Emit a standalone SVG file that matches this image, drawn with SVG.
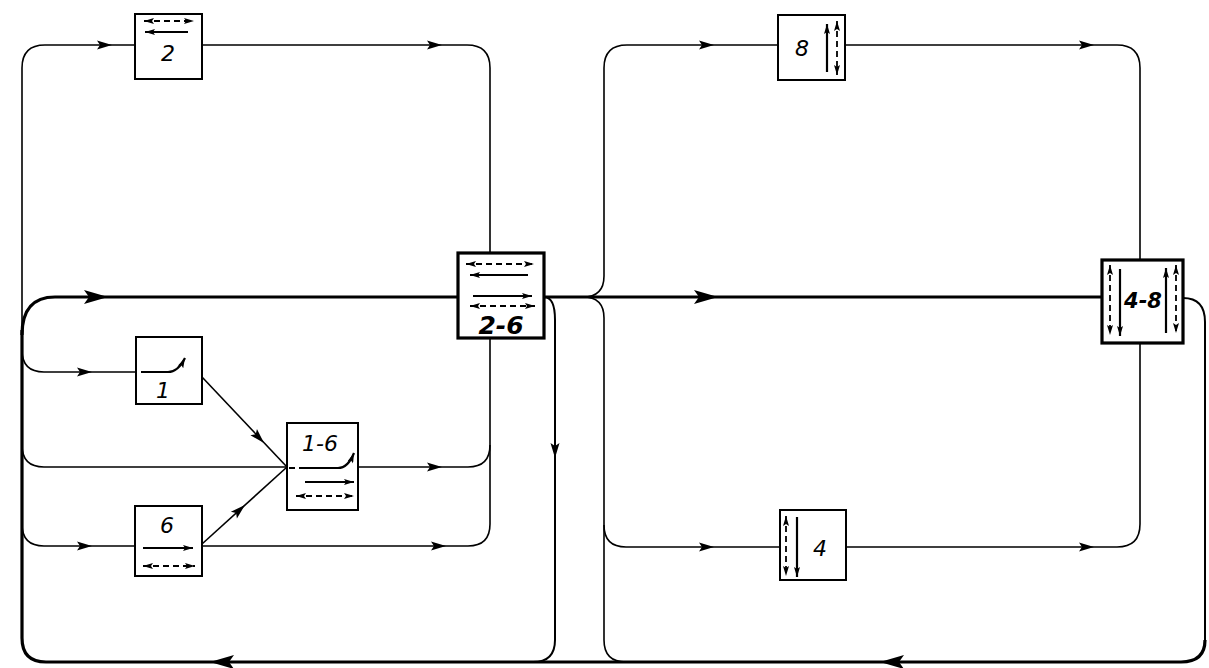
<svg xmlns="http://www.w3.org/2000/svg" width="1209" height="668" viewBox="0 0 1209 668">
<style>
.n{fill:#fff;stroke:#000;stroke-width:2}
.nb{fill:#fff;stroke:#000;stroke-width:3.2}
.c{fill:none;stroke:#000;stroke-width:1.6}
.cm{fill:none;stroke:#000;stroke-width:2}
.ct{fill:none;stroke:#000;stroke-width:3.2}
.i{fill:none;stroke:#000;stroke-width:2.2}
.d{fill:none;stroke:#000;stroke-width:1.8;stroke-dasharray:6 4}
.t{font-family:"DejaVu Sans","Liberation Sans",sans-serif;font-style:italic;font-size:22px;text-anchor:middle}
.tb{font-family:"DejaVu Sans","Liberation Sans",sans-serif;font-style:italic;font-weight:bold;font-size:25px;text-anchor:middle}
</style>
<defs>
<marker id="a" viewBox="0 0 10 6" refX="10" refY="3" markerWidth="11" markerHeight="6" markerUnits="userSpaceOnUse" orient="auto-start-reverse"><path d="M0,0 L10,3 L0,6 L2,3Z"/></marker>
<path id="ah" d="M0,0 L-15,-4.5 L-12,0 L-15,4.5Z"/>
<path id="AH" d="M0,0 L-24,-7 L-19,0 L-24,7Z"/>
</defs>
<g id="connectors">
<path class="ct" d="M22,335 Q22,297 55,297 L458,297"/>
<path class="ct" d="M544,297 L1102,297"/>
<path class="ct" d="M1205,640 Q1205,662 1181,662 L46,662 Q22,662 22,638 L22,330"/>
<path class="cm" d="M1183,298 Q1205,298 1205,322 L1205,640"/>
<path class="c" d="M22,330 L22,68 Q22,45 45,45 L135,45"/>
<path class="c" d="M202,45 L467,45 Q490,45 490,68 L490,253"/>
<path class="c" d="M22,350 Q22,372 44,372 L136,372"/>
<path class="c" d="M22,445 Q22,467 44,467 L287,467"/>
<path class="c" d="M22,524 Q22,546 44,546 L135,546"/>
<path class="c" d="M202,377 L287,467"/>
<path class="c" d="M202,544 L287,467"/>
<path class="c" d="M358,467 L468,467 Q490,467 490,445 L490,338"/>
<path class="c" d="M202,546 L468,546 Q490,546 490,524 L490,445"/>
<path class="cm" d="M544,297 Q555,297 555,320 L555,640 Q555,662 533,662"/>
<path class="c" d="M583,297 Q604,297 604,276 L604,68 Q604,45 627,45 L778,45"/>
<path class="c" d="M583,297 Q604,297 604,318 L604,640 Q604,662 626,662"/>
<path class="c" d="M604,525 Q604,547 626,547 L780,547"/>
<path class="c" d="M845,45 L1117,45 Q1140,45 1140,68 L1140,260"/>
<path class="c" d="M1140,343 L1140,524 Q1140,547 1117,547 L846,547"/>
<use href="#AH" transform="translate(108,297)"/>
<use href="#AH" transform="translate(718,297)"/>
<use href="#AH" transform="translate(210,662) rotate(180)"/>
<use href="#AH" transform="translate(880,662) rotate(180)"/>
<use href="#ah" transform="translate(112,45)"/>
<use href="#ah" transform="translate(442,45)"/>
<use href="#ah" transform="translate(714,45)"/>
<use href="#ah" transform="translate(1094,45)"/>
<use href="#ah" transform="translate(92,372)"/>
<use href="#ah" transform="translate(92,546)"/>
<use href="#ah" transform="translate(442,467)"/>
<use href="#ah" transform="translate(446,546)"/>
<use href="#ah" transform="translate(555,458) rotate(90)"/>
<use href="#ah" transform="translate(714,547)"/>
<use href="#ah" transform="translate(1094,547)"/>
<use href="#ah" transform="translate(264,443) rotate(46.6)"/>
<use href="#ah" transform="translate(245,505) rotate(-42.2)"/>
</g>
<g id="n2">
<rect class="n" x="135" y="14" width="67" height="65"/>
<line class="d" x1="144" y1="21" x2="194" y2="21" marker-start="url(#a)" marker-end="url(#a)"/>
<line class="i" x1="188" y1="32" x2="145" y2="32" marker-end="url(#a)"/>
<text class="t" x="168" y="61">2</text>
</g>
<g id="n8">
<rect class="n" x="778" y="15" width="67" height="65"/>
<text class="t" x="802" y="56">8</text>
<line class="i" x1="827" y1="72" x2="827" y2="24" marker-end="url(#a)"/>
<line class="d" x1="837" y1="21" x2="837" y2="75" marker-start="url(#a)" marker-end="url(#a)"/>
</g>
<g id="n26">
<rect class="nb" x="458" y="253" width="86" height="85"/>
<line class="d" x1="466" y1="264" x2="534" y2="264" marker-start="url(#a)" marker-end="url(#a)"/>
<line class="i" x1="528" y1="275" x2="470" y2="275" marker-end="url(#a)"/>
<line class="i" x1="473" y1="296" x2="532" y2="296" marker-end="url(#a)"/>
<line class="d" x1="470" y1="306" x2="535" y2="306" marker-start="url(#a)" marker-end="url(#a)"/>
<text class="tb" x="501" y="334">2-6</text>
</g>
<g id="n48">
<rect class="nb" x="1102" y="260" width="81" height="83"/>
<line class="d" x1="1110" y1="265" x2="1110" y2="335" marker-start="url(#a)" marker-end="url(#a)"/>
<line class="i" x1="1120" y1="269" x2="1120" y2="336" marker-end="url(#a)"/>
<text class="tb" x="1143" y="308" style="font-size:21px">4-8</text>
<line class="i" x1="1166" y1="333" x2="1166" y2="268" marker-end="url(#a)"/>
<line class="d" x1="1176" y1="265" x2="1176" y2="333" marker-start="url(#a)" marker-end="url(#a)"/>
</g>
<g id="n1">
<rect class="n" x="136" y="337" width="66" height="67"/>
<path class="i" d="M141,372 L168,372 Q178,372 185,358" marker-end="url(#a)"/>
<text class="t" x="163" y="398">1</text>
</g>
<g id="n16">
<rect class="n" x="287" y="423" width="71" height="87"/>
<text class="t" x="320" y="451">1-6</text>
<path class="d" d="M289,468 L300,468"/>
<path class="i" d="M300,468 L338,468 Q348,468 354,453" marker-end="url(#a)"/>
<line class="i" x1="305" y1="482" x2="354" y2="482" marker-end="url(#a)"/>
<line class="d" x1="296" y1="496" x2="354" y2="496" marker-start="url(#a)" marker-end="url(#a)"/>
</g>
<g id="n6">
<rect class="n" x="135" y="506" width="67" height="70"/>
<text class="t" x="167" y="533">6</text>
<line class="i" x1="143" y1="548" x2="193" y2="548" marker-end="url(#a)"/>
<line class="d" x1="143" y1="566" x2="195" y2="566" marker-start="url(#a)" marker-end="url(#a)"/>
</g>
<g id="n4">
<rect class="n" x="780" y="510" width="66" height="70"/>
<line class="d" x1="786" y1="516" x2="786" y2="576" marker-start="url(#a)" marker-end="url(#a)"/>
<line class="i" x1="797" y1="517" x2="797" y2="577" marker-end="url(#a)"/>
<text class="t" x="820" y="556">4</text>
</g>
</svg>
